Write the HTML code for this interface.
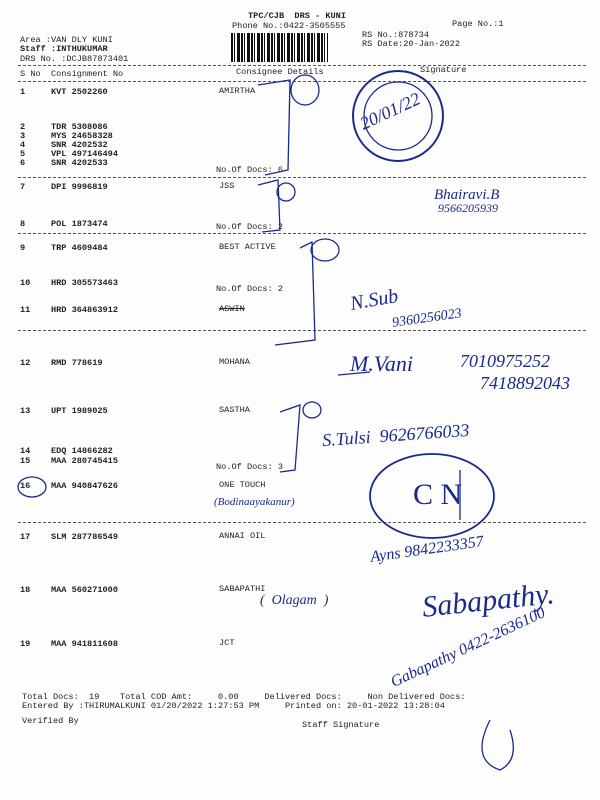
<!DOCTYPE html>
<html><head><meta charset="utf-8"><style>
body{margin:0;width:600px;height:800px;background:#fdfdfd;position:relative;overflow:hidden;font-family:"Liberation Mono",monospace;font-size:8.6px;color:#222}
.t{position:absolute;white-space:pre;line-height:1}
.b{font-weight:bold}
.d{position:absolute;left:18px;width:568px;border-top:1px dashed #555;height:0}
.h{position:absolute;font-family:"Liberation Serif",serif;font-style:italic;color:#1a2a8a;white-space:pre;line-height:1}
</style></head><body>
<div class="t b" style="left:248px;top:12px">TPC/CJB  DRS - KUNI</div>
<div class="t" style="left:232px;top:22px">Phone No.:0422-3505555</div>
<div class="t" style="left:452px;top:20px">Page No.:1</div>
<div style="position:absolute;left:231px;top:33px;width:97px;height:29px;background:repeating-linear-gradient(90deg,#111 0 2px,#fff 2px 3px,#111 3px 4px,#fff 4px 6px,#111 6px 9px,#fff 9px 10px)"></div>
<div class="t" style="left:362px;top:31px">RS No.:878734</div>
<div class="t" style="left:362px;top:40px">RS Date:20-Jan-2022</div>
<div class="t" style="left:20px;top:36px">Area :VAN DLY KUNI</div>
<div class="t b" style="left:20px;top:45px">Staff :INTHUKUMAR</div>
<div class="t" style="left:20px;top:55px">DRS No. :DCJB87873401</div>
<div class="d" style="top:65px"></div>
<div class="t" style="left:20px;top:70px">S No  Consignment No</div>
<div class="t" style="left:236px;top:68px">Consignee Details</div>
<div class="t" style="left:420px;top:66px">Signature</div>
<div class="d" style="top:81px"></div>
<div class="t b" style="left:20px;top:88px">1     KVT 2502260</div><div class="t" style="left:219px;top:87px">AMIRTHA</div>
<div class="t b" style="left:20px;top:123px">2     TDR 5308086</div>
<div class="t b" style="left:20px;top:132px">3     MYS 24658328</div>
<div class="t b" style="left:20px;top:141px">4     SNR 4202532</div>
<div class="t b" style="left:20px;top:150px">5     VPL 497146494</div>
<div class="t b" style="left:20px;top:159px">6     SNR 4202533</div>
<div class="t" style="left:216px;top:166px">No.Of Docs: 6</div>
<div class="d" style="top:177px"></div>
<div class="t b" style="left:20px;top:183px">7     DPI 9996819</div><div class="t" style="left:219px;top:182px">JSS</div>
<div class="t b" style="left:20px;top:220px">8     POL 1873474</div><div class="t" style="left:216px;top:223px">No.Of Docs: 2</div>
<div class="d" style="top:233px"></div>
<div class="t b" style="left:20px;top:244px">9     TRP 4609484</div><div class="t" style="left:219px;top:243px">BEST ACTIVE</div>
<div class="t b" style="left:20px;top:279px">10    HRD 305573463</div><div class="t" style="left:216px;top:285px">No.Of Docs: 2</div>
<div class="t b" style="left:20px;top:306px">11    HRD 364863912</div><div class="t" style="left:219px;top:305px;text-decoration:line-through">ASWIN</div>
<div class="d" style="top:330px"></div>
<div class="t b" style="left:20px;top:359px">12    RMD 778619</div><div class="t" style="left:219px;top:358px">MOHANA</div>
<div class="t b" style="left:20px;top:407px">13    UPT 1989025</div><div class="t" style="left:219px;top:406px">SASTHA</div>
<div class="t b" style="left:20px;top:447px">14    EDQ 14866282</div>
<div class="t b" style="left:20px;top:457px">15    MAA 280745415</div><div class="t" style="left:216px;top:463px">No.Of Docs: 3</div>
<div class="t b" style="left:20px;top:482px">16    MAA 940847626</div><div class="t" style="left:219px;top:481px">ONE TOUCH</div>
<div class="d" style="top:522px"></div>
<div class="t b" style="left:20px;top:533px">17    SLM 287786549</div><div class="t" style="left:219px;top:532px">ANNAI OIL</div>
<div class="t b" style="left:20px;top:586px">18    MAA 560271000</div><div class="t" style="left:219px;top:585px">SABAPATHI</div>
<div class="t b" style="left:20px;top:640px">19    MAA 941811608</div><div class="t" style="left:219px;top:639px">JCT</div>
<div class="t" style="left:22px;top:693px">Total Docs:  19    Total COD Amt:     0.00     Delivered Docs:     Non Delivered Docs:</div>
<div class="t" style="left:22px;top:702px">Entered By :THIRUMALKUNI 01/20/2022 1:27:53 PM     Printed on: 20-01-2022 13:28:04</div>
<div class="t" style="left:22px;top:717px">Verified By</div>
<div class="t" style="left:302px;top:721px">Staff Signature</div>

<svg width="600" height="800" style="position:absolute;left:0;top:0" fill="none" stroke="#1a2a8a" stroke-width="1.3">
<path d="M258 85 L290 80 L288 170 L265 175"/><ellipse cx="305" cy="90" rx="14" ry="15"/>
<path d="M258 185 L278 180 L280 230 L262 232"/><ellipse cx="286" cy="192" rx="9" ry="9"/>
<path d="M300 248 L312 242 L315 340 L275 345"/><ellipse cx="325" cy="250" rx="14" ry="11"/>
<path d="M280 412 L300 405 L295 470 L280 472"/><ellipse cx="312" cy="410" rx="9" ry="8"/>
<ellipse cx="32" cy="487" rx="14" ry="10"/>
<circle cx="398" cy="116" r="45" stroke-width="2"/><circle cx="398" cy="116" r="34"/>
<ellipse cx="432" cy="496" rx="62" ry="42" stroke-width="1.8"/><path d="M460 470 L460 520"/>
<path d="M490 720 Q470 760 500 770 Q520 760 510 730"/>
<path d="M338 375 L370 372"/>
</svg>
<div class="h" style="left:358px;top:102px;font-size:18px;transform:rotate(-25deg)">20/01/22</div>
<div class="h" style="left:434px;top:188px;font-size:15px">Bhairavi.B</div>
<div class="h" style="left:438px;top:202px;font-size:12px">9566205939</div>
<div class="h" style="left:350px;top:290px;font-size:20px;transform:rotate(-10deg)">N.Sub</div>
<div class="h" style="left:392px;top:312px;font-size:14px;transform:rotate(-8deg)">9360256023</div>
<div class="h" style="left:350px;top:353px;font-size:22px">M.Vani</div>
<div class="h" style="left:460px;top:352px;font-size:18px">7010975252</div>
<div class="h" style="left:480px;top:374px;font-size:18px">7418892043</div>
<div class="h" style="left:322px;top:426px;font-size:18px;transform:rotate(-4deg)">S.Tulsi  9626766033</div>
<div class="h" style="left:413px;top:480px;font-size:30px;font-style:normal">C N</div>
<div class="h" style="left:214px;top:497px;font-size:11px">(Bodinaayakanur)</div>
<div class="h" style="left:370px;top:542px;font-size:16px;transform:rotate(-8deg)">Ayns 9842233357</div>
<div class="h" style="left:260px;top:594px;font-size:14px">(&#160;&#160;Olagam&#160;&#160;)</div>
<div class="h" style="left:422px;top:586px;font-size:30px;transform:rotate(-6deg)">Sabapathy.</div>
<div class="h" style="left:384px;top:640px;font-size:16px;transform:rotate(-25deg)">Gabapathy 0422-2636100</div>
</body></html>
